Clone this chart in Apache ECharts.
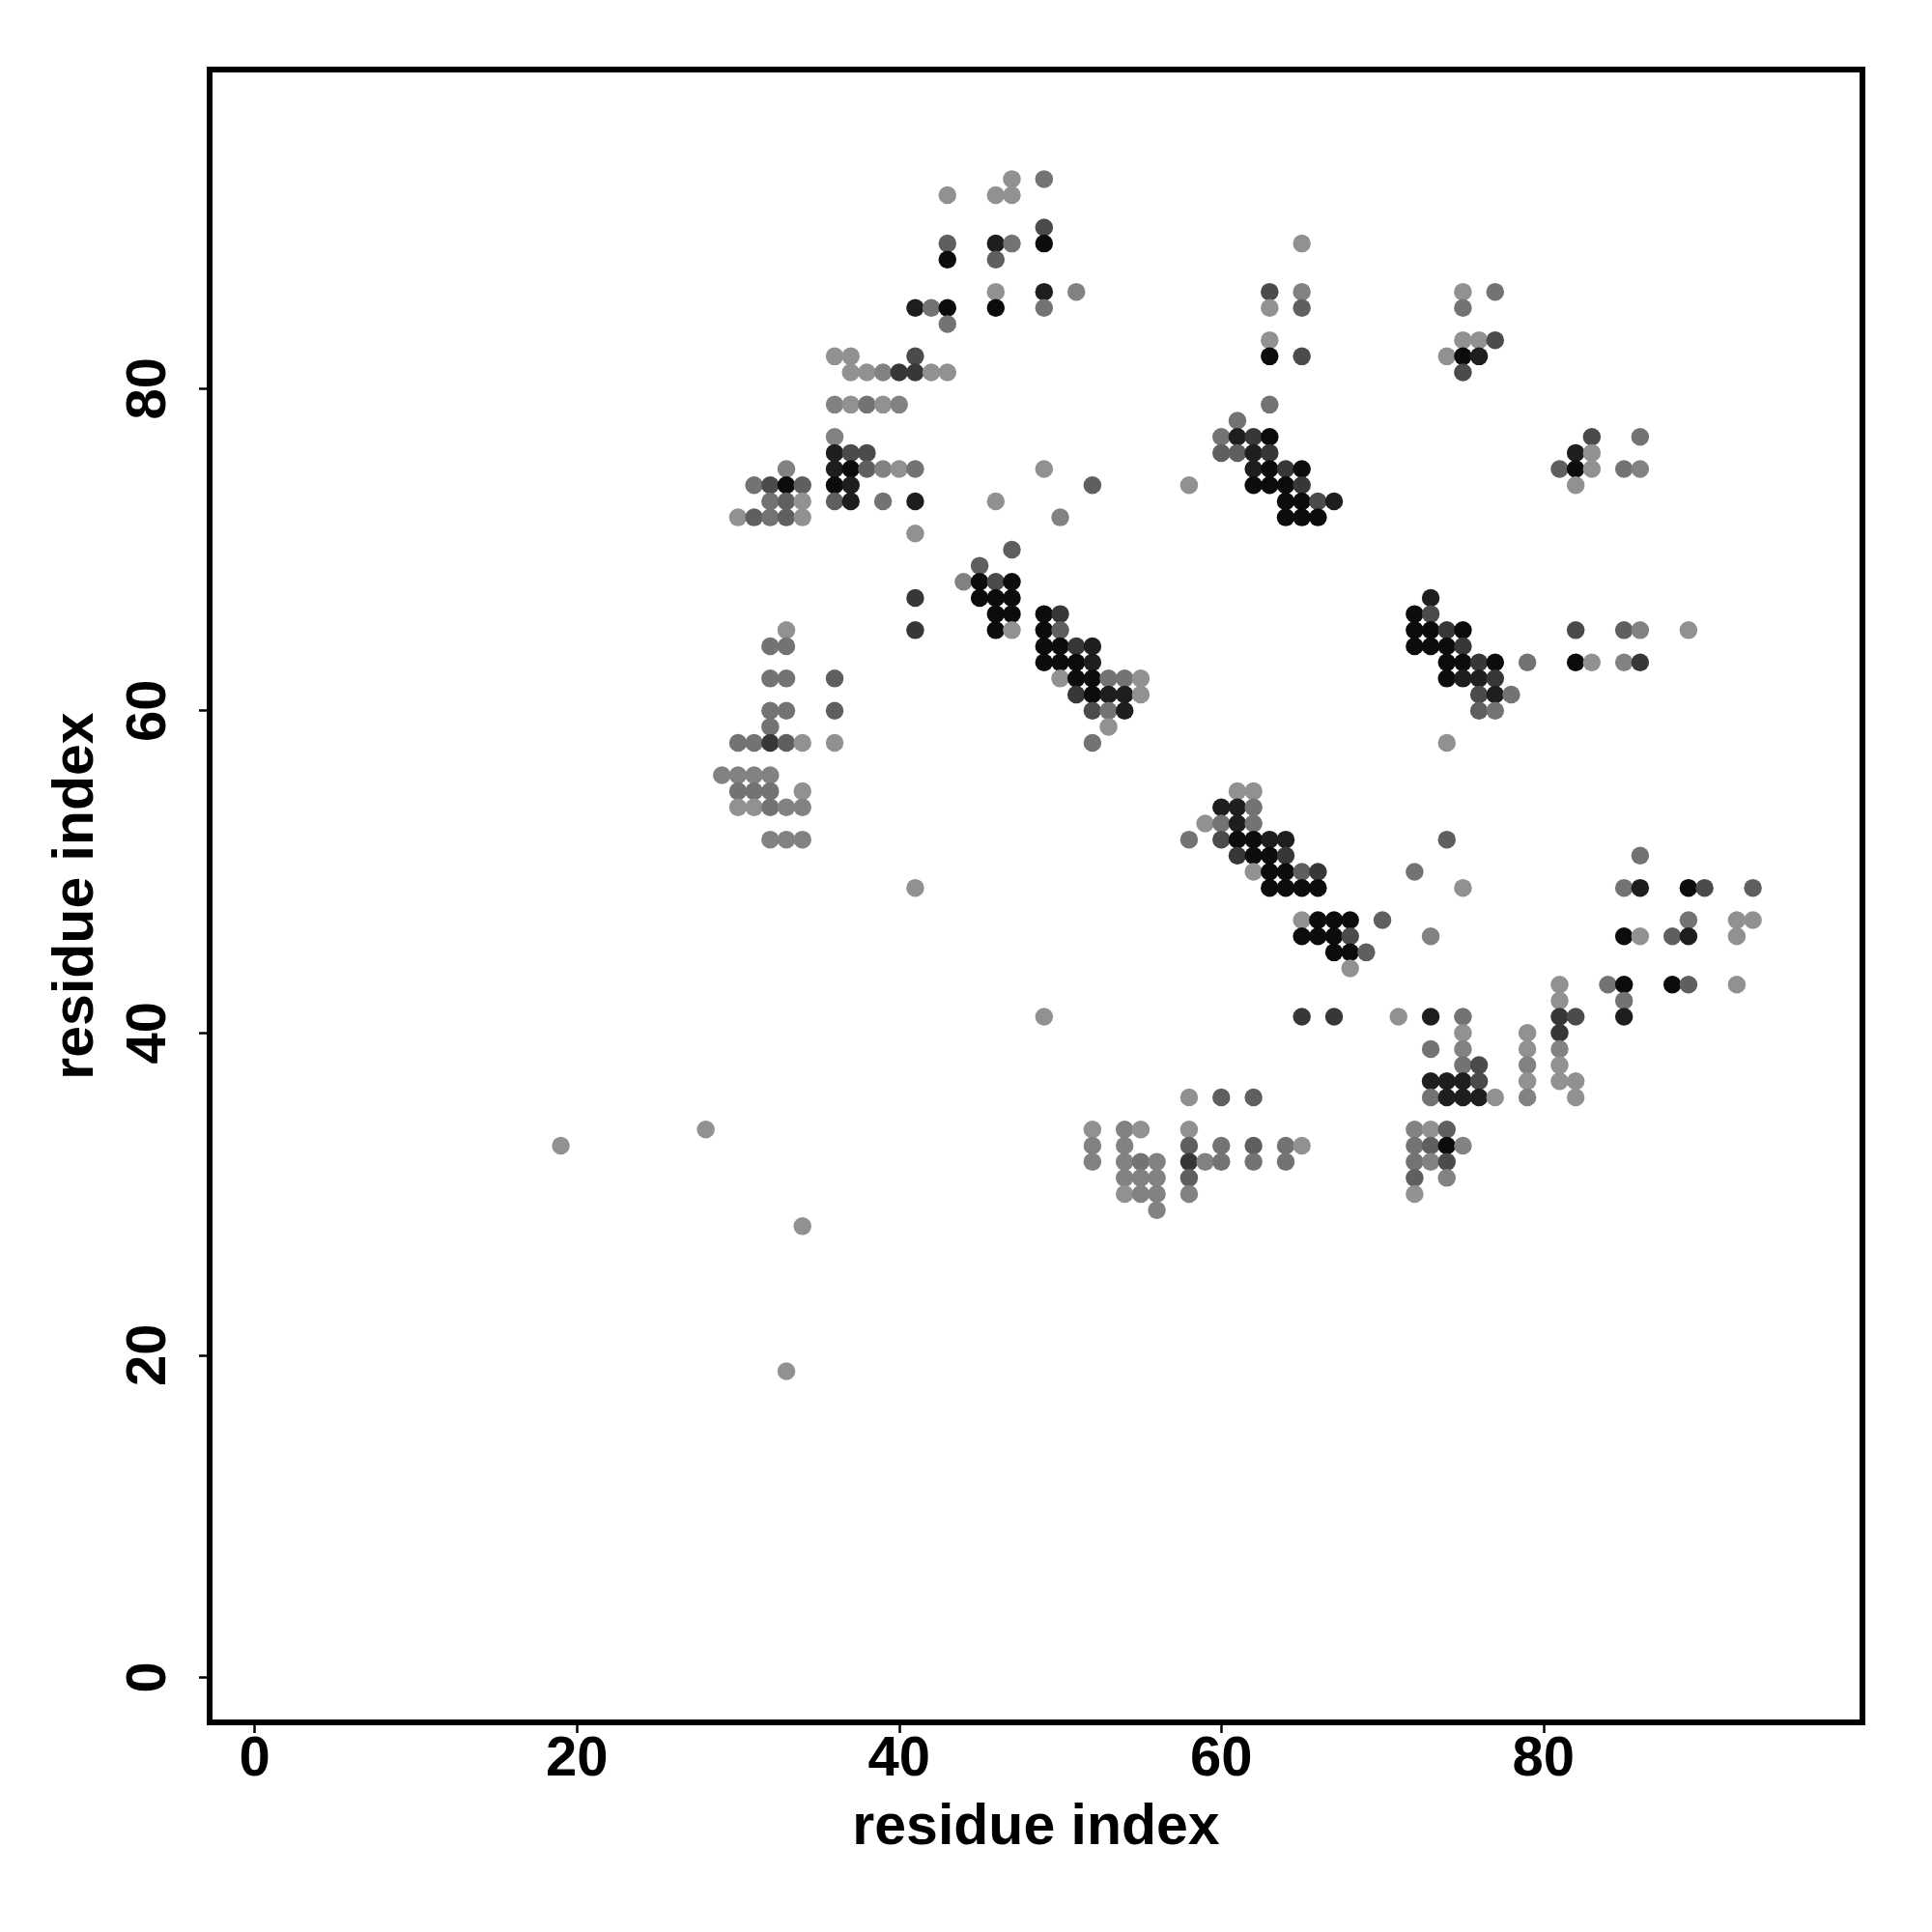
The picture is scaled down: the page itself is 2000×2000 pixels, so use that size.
<!DOCTYPE html>
<html>
<head>
<meta charset="utf-8">
<script src="https://cdn.jsdelivr.net/npm/echarts@6/dist/echarts.min.js"></script>
<style>html,body{margin:0;padding:0;background:#fff}#c{width:2000px;height:2000px}</style>
</head>
<body>
<div id="c"></div>
<script>
// contacts: [residue i, residue j, strength level 0 (weak) .. 7 (strong)]
const contacts = [
[47,93,0],[49,93,2],[43,92,0],[46,92,0],[47,92,0],[49,90,4],
[43,89,3],[46,89,6],[47,89,2],[49,89,7],[43,88,7],[46,88,3],
[46,86,0],[49,86,6],[51,86,1],[41,85,6],[42,85,2],[43,85,7],[46,85,7],[49,85,2],[43,84,2],
[36,82,0],[37,82,0],[41,82,4],
[37,81,0],[38,81,0],[39,81,1],[40,81,5],[41,81,5],[42,81,0],[43,81,0],
[36,79,1],[37,79,0],[38,79,2],[39,79,0],[40,79,1],[36,77,1],
[36,76,6],[37,76,4],[38,76,4],
[33,75,1],[36,75,6],[37,75,7],[38,75,3],[39,75,1],[40,75,0],[41,75,2],[49,75,0],
[31,74,2],[32,74,4],[33,74,7],[34,74,3],[36,74,7],[37,74,6],[52,74,3],
[32,73,2],[33,73,3],[34,73,0],[36,73,3],[37,73,6],[39,73,2],[41,73,6],[46,73,0],
[30,72,0],[31,72,3],[32,72,2],[33,72,3],[34,72,0],[50,72,1],[41,71,0],[47,70,3],
[45,69,3],[44,68,1],[45,68,7],[46,68,4],[47,68,7],
[41,67,5],[45,67,7],[46,67,7],[47,67,7],
[46,66,7],[47,66,7],[49,66,7],[50,66,5],
[33,65,0],[41,65,5],[46,65,7],[47,65,0],[49,65,7],[50,65,3],
[32,64,2],[33,64,2],[49,64,7],[50,64,7],[51,64,5],[52,64,6],
[49,63,7],[50,63,7],[51,63,7],[52,63,6],
[32,62,2],[33,62,2],[36,62,3],[50,62,0],[51,62,7],[52,62,7],[53,62,2],[54,62,2],[55,62,0],
[51,61,5],[52,61,7],[53,61,6],[54,61,6],[55,61,0],
[32,60,2],[33,60,2],[36,60,3],[52,60,4],[53,60,2],[54,60,6],
[32,59,2],[53,59,0],
[30,58,2],[31,58,2],[32,58,5],[33,58,3],[34,58,0],[36,58,0],[52,58,2],
[29,56,1],[30,56,1],[31,56,1],[32,56,1],
[30,55,2],[31,55,2],[32,55,2],[34,55,0],
[30,54,0],[31,54,0],[32,54,2],[33,54,1],[34,54,1],
[32,52,1],[33,52,1],[34,52,1],
[65,89,0],[63,86,4],[65,86,1],[63,85,0],[65,85,3],[63,83,0],[63,82,7],[65,82,4],
[75,86,0],[77,86,2],[75,85,2],[75,83,0],[76,83,0],[77,83,4],
[74,82,0],[75,82,7],[76,82,6],[75,81,4],
[63,79,2],[61,78,2],
[60,77,2],[61,77,6],[62,77,5],[63,77,7],
[60,76,3],[61,76,3],[62,76,6],[63,76,5],
[62,75,6],[63,75,7],[64,75,5],[65,75,7],
[58,74,0],[62,74,7],[63,74,7],[64,74,7],[65,74,5],
[64,73,7],[65,73,7],[66,73,4],[67,73,6],
[64,72,7],[65,72,7],[66,72,7],
[83,77,4],[86,77,2],[82,76,6],[83,76,0],
[81,75,3],[82,75,7],[83,75,0],[85,75,2],[86,75,1],[82,74,0],
[82,65,4],[85,65,3],[86,65,1],[89,65,0],
[82,63,7],[83,63,0],[85,63,1],[86,63,5],
[73,67,6],[72,66,7],[73,66,4],
[72,65,7],[73,65,7],[74,65,5],[75,65,7],
[72,64,7],[73,64,7],[74,64,7],[75,64,5],
[74,63,7],[75,63,7],[76,63,5],[77,63,7],[79,63,2],
[74,62,7],[75,62,6],[76,62,6],[77,62,5],
[76,61,4],[77,61,6],[78,61,2],[76,60,3],[77,60,2],[74,58,0],
[61,55,0],[62,55,0],[60,54,6],[61,54,6],[62,54,2],
[59,53,0],[60,53,2],[61,53,6],[62,53,2],
[58,52,2],[60,52,4],[61,52,7],[62,52,7],[63,52,6],[64,52,6],[74,52,3],
[61,51,5],[62,51,7],[63,51,7],[64,51,5],
[62,50,0],[63,50,7],[64,50,7],[65,50,3],[66,50,5],[72,50,2],
[63,49,7],[64,49,7],[65,49,7],[66,49,7],[75,49,0],
[65,47,0],[66,47,7],[67,47,7],[68,47,7],[70,47,3],
[65,46,7],[66,46,7],[67,46,7],[68,46,4],[73,46,1],
[67,45,7],[68,45,7],[69,45,3],[68,44,0],
[65,41,5],[67,41,5],[71,41,0],[73,41,6],[75,41,2],
[75,40,0],[79,40,0],[81,40,5],
[86,51,2],[85,49,2],[86,49,6],[89,49,7],[90,49,4],[93,49,3],
[89,47,2],[92,47,0],[93,47,0],
[85,46,7],[86,46,0],[88,46,3],[89,46,6],[92,46,0],
[81,43,0],[84,43,2],[85,43,7],[88,43,7],[89,43,3],[92,43,0],
[81,42,0],[85,42,2],[81,41,5],[82,41,4],[85,41,6],
[73,39,2],[75,39,1],[79,39,0],[81,39,1],
[75,38,2],[76,38,4],[79,38,1],[81,38,0],
[73,37,6],[74,37,6],[75,37,6],[76,37,4],[79,37,0],[81,37,0],[82,37,0],
[73,36,2],[74,36,6],[75,36,6],[76,36,6],[77,36,0],[79,36,1],[82,36,0],
[58,36,0],[60,36,3],[62,36,3],
[52,34,0],[54,34,1],[55,34,0],[58,34,0],[72,34,1],[73,34,0],[74,34,3],
[52,33,1],[54,33,1],[58,33,3],[60,33,2],[62,33,3],[64,33,2],[65,33,0],[72,33,2],[73,33,3],[74,33,7],[75,33,1],
[52,32,1],[54,32,1],[55,32,2],[56,32,1],[58,32,5],[59,32,1],[60,32,2],[62,32,2],[64,32,2],[72,32,2],[73,32,1],[74,32,4],
[54,31,1],[55,31,1],[56,31,1],[58,31,3],[72,31,3],[74,31,1],
[54,30,0],[55,30,1],[56,30,1],[58,30,1],[72,30,0],[56,29,1],
[19,33,0],[28,34,0],[33,19,0],[34,28,0],[41,49,0],[49,41,0]
];
const tickValues = [0, 20, 40, 60, 80];
const axisMin = -2.8, axisMax = 99.8;

const grays = [145, 130, 115, 95, 75, 55, 30, 12];
const FONT = '"Liberation Sans", Arial, Helvetica, sans-serif';

const chart = echarts.init(document.getElementById('c'), null, {renderer: 'canvas'});
const labelStyle = {fontSize: 58, fontWeight: 'bold', fontFamily: FONT, color: '#000'};
const tickStyle = {show: true, inside: false, length: 11, lineStyle: {color: '#000', width: 2.5}, customValues: tickValues};
chart.setOption({
  animation: false,
  backgroundColor: '#fff',
  grid: {left: 217, top: 72, width: 1711, height: 1711, show: true, borderColor: '#000', borderWidth: 6, backgroundColor: 'transparent', containLabel: false},
  xAxis: {
    type: 'value', min: axisMin, max: axisMax,
    splitLine: {show: false},
    axisLine: {show: false, onZero: false},
    axisTick: tickStyle,
    axisLabel: Object.assign({customValues: tickValues, margin: 10}, labelStyle),
    name: 'residue index', nameLocation: 'middle', nameGap: 80,
    nameMoveOverlap: false,
    nameTextStyle: {fontSize: 59, fontWeight: 'bold', fontFamily: FONT, color: '#000'}
  },
  yAxis: {
    type: 'value', min: axisMin, max: axisMax,
    splitLine: {show: false},
    axisLine: {show: false, onZero: false},
    axisTick: tickStyle,
    axisLabel: Object.assign({customValues: tickValues, margin: 33, rotate: 90}, labelStyle),
    name: 'residue index', nameLocation: 'middle', nameGap: 108,
    nameMoveOverlap: false,
    nameTextStyle: {fontSize: 59, fontWeight: 'bold', fontFamily: FONT, color: '#000'}
  },
  series: [{
    type: 'scatter',
    data: contacts,
    encode: {x: 0, y: 1},
    symbol: 'circle',
    symbolSize: 18.5,
    itemStyle: {
      opacity: 1,
      color: function (p) { const g = grays[p.data[2]]; return 'rgb(' + g + ',' + g + ',' + g + ')'; }
    },
    emphasis: {disabled: true}
  }]
});
</script>
</body>
</html>
